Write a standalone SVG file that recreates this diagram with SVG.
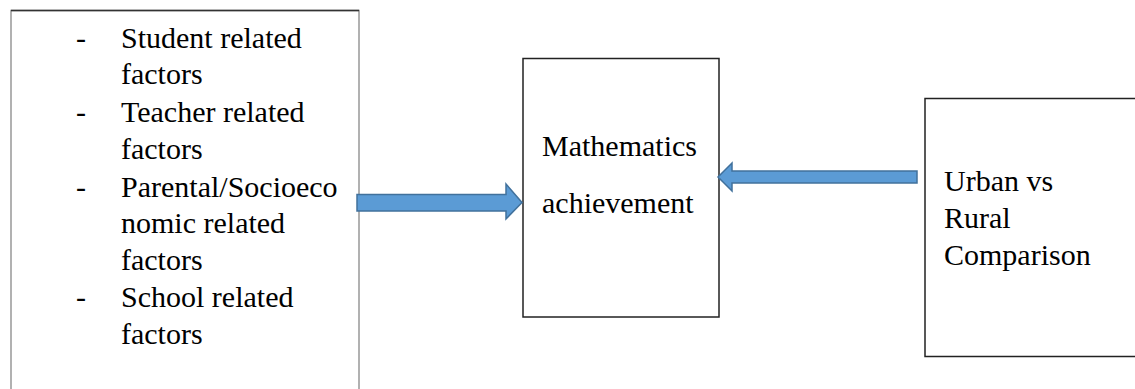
<svg xmlns="http://www.w3.org/2000/svg" width="1135" height="389" viewBox="0 0 1135 389">
<style>
.box{fill:#fff;stroke:#222;stroke-width:1.5}
.t{font-family:'Liberation Serif',Tinos,'DejaVu Serif',serif;font-size:30px;fill:#000}
.arrow{fill:#5b9bd5;stroke:#41719c;stroke-width:1.5}
</style>
<rect width="1135" height="389" fill="#fff"/>
<g id="factors">
<path d="M11,392 V10.5 H359 V392" fill="#fff" stroke="#888" stroke-width="1.3"/>
<line x1="11" y1="10.5" x2="359" y2="10.5" stroke="#333" stroke-width="1.3"/>
<text class="t" x="76" y="47.5">-</text>
<text class="t" x="121" y="47.5">Student related</text>
<text class="t" x="121" y="84">factors</text>
<text class="t" x="76" y="122">-</text>
<text class="t" x="121" y="122">Teacher related</text>
<text class="t" x="121" y="158.5">factors</text>
<text class="t" x="76" y="196.5">-</text>
<text class="t" x="121" y="196.5">Parental/Socioeco</text>
<text class="t" x="121" y="233">nomic related</text>
<text class="t" x="121" y="270">factors</text>
<text class="t" x="76" y="307">-</text>
<text class="t" x="121" y="307">School related</text>
<text class="t" x="121" y="343.5">factors</text>
</g>
<g id="math">
<rect class="box" x="523" y="58.5" width="196" height="258.5"/>
<text class="t" x="542" y="156">Mathematics</text>
<text class="t" x="542" y="213">achievement</text>
</g>
<g id="urban">
<path d="M1140,98.5 H925 V356.5 H1140" fill="#fff" stroke="#222" stroke-width="1.5"/>
<text class="t" x="944" y="191">Urban vs</text>
<text class="t" x="944" y="228">Rural</text>
<text class="t" x="944" y="265">Comparison</text>
</g>
<g id="connectors">
<path class="arrow" d="M357,194.5 H506 V184 L522,202.5 L506,219 V211 H357 Z"/>
<path class="arrow" d="M917,171 H732 V163 L718,177 L732,191 V183 H917 Z"/>
</g>
</svg>
